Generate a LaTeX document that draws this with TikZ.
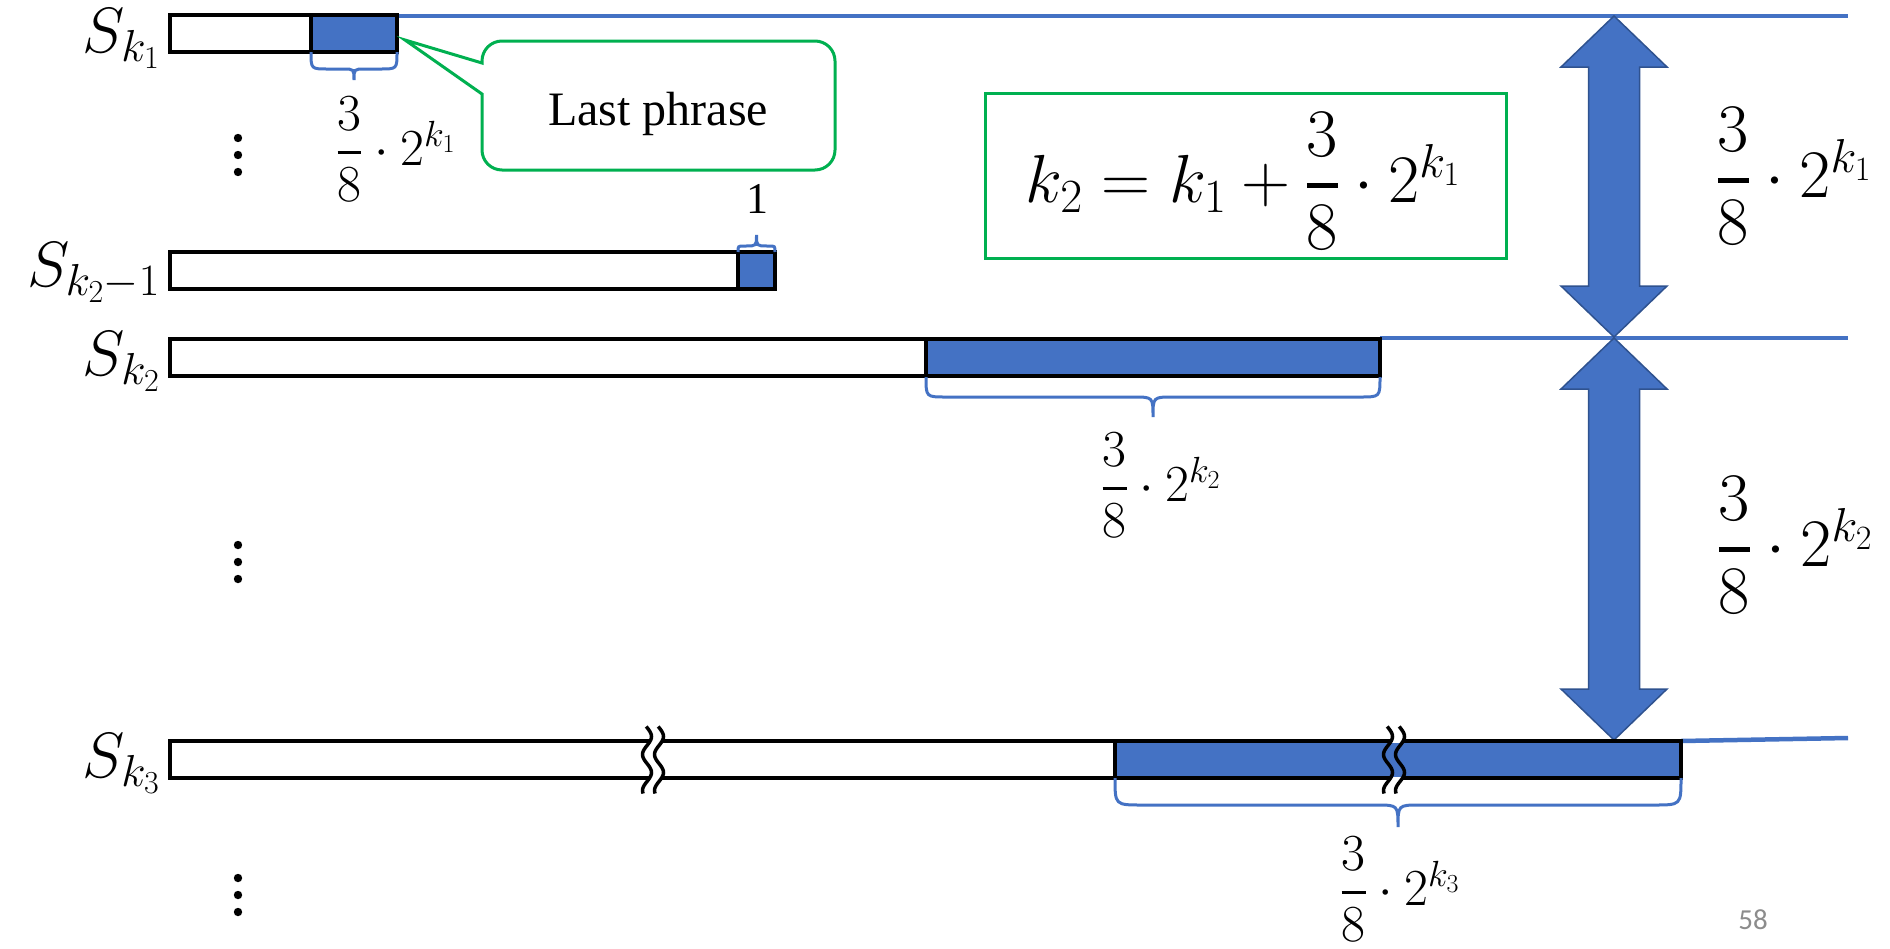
\RequirePackage{fix-cm}
\documentclass[tikz,border=0pt]{standalone}
\usepackage{amsmath}
\usepackage{fontspec}
\newfontfamily\tnrfont{Liberation Serif}
\newfontfamily\numfont{Carlito}
\definecolor{obl}{HTML}{4472C4}
\definecolor{obd}{HTML}{2F528F}
\definecolor{ogr}{HTML}{00B050}
\definecolor{pgray}{HTML}{8C8C8C}
\newcommand{\tfs}[2]{\genfrac{}{}{3.5pt}{0}{#1}{#2}}
\newcommand{\tfb}[2]{\genfrac{}{}{4.5pt}{0}{#1}{#2}}
\tikzset{
  barline/.style={draw=black, line width=3.5pt},
  segfill/.style={fill=obl},
  bline/.style={draw=obl, line width=4.5pt},
  brc/.style={draw=obl, line width=3pt},
  slab/.style={font=\fontsize{64}{74}\selectfont, anchor=base east, inner sep=0pt},
  frsmall/.style={font=\fontsize{52}{60}\selectfont, inner sep=0pt},
  frbig/.style={font=\fontsize{68}{78}\selectfont, inner sep=0pt},
  dotc/.style={fill=black},
  wavecurves/.pic={
    \fill[white] plot[domain=0:67,samples=40,smooth] ({-6+4.5*sin(-10+10*\x)},{33-\x})
      -- plot[domain=67:0,samples=40,smooth] ({6+4.5*sin(-10+10*\x)},{33-\x}) -- cycle;
  },
  wavelines/.pic={
    \draw[line width=3.5pt] plot[domain=0:67,samples=40,smooth] ({-6+4.5*sin(-10+10*\x)},{33-\x});
    \draw[line width=3.5pt] plot[domain=0:67,samples=40,smooth] ({6+4.5*sin(-10+10*\x)},{33-\x});
  },
  wavebreakw/.pic={
    \pic {wavecurves};
    \pic {wavelines};
  },
  wavebreakb/.pic={
    \pic {wavecurves};
    \begin{scope}
      \clip (-20,-16.5) rectangle (20,16.5);
      \fill[obl] plot[domain=0:67,samples=40,smooth] ({-6+4.5*sin(-10+10*\x)},{33-\x})
        -- plot[domain=67:0,samples=40,smooth] ({6+4.5*sin(-10+10*\x)},{33-\x}) -- cycle;
    \end{scope}
    \pic {wavelines};
  }
}
% brace: x1, x2, y0 (px, down), a, b, dir (1 down, -1 up)
\newcommand{\pbrace}[6]{%
  \pgfmathsetmacro\brYo{-(#3)}%
  \pgfmathsetmacro\brYa{-(#3+#6*#4)}%
  \pgfmathsetmacro\brYb{-(#3+#6*(#4+#5))}%
  \pgfmathsetmacro\brXm{(#1+#2)/2}%
  \draw[brc] (#1,\brYo) .. controls (#1,\brYa) and (#1,\brYa) .. ({#1+#4},\brYa)
    -- ({\brXm-#5},\brYa) .. controls (\brXm,\brYa) and (\brXm,\brYa) .. (\brXm,\brYb)
    .. controls (\brXm,\brYa) and (\brXm,\brYa) .. ({\brXm+#5},\brYa)
    -- ({#2-#4},\brYa) .. controls (#2,\brYa) and (#2,\brYa) .. (#2,\brYo);}
% double arrow: cx, ytop, ybot (px, down)
\newcommand{\dbarrow}[3]{%
  \filldraw[fill=obl, draw=obd, line width=1.5pt] (#1,-#2) -- ({#1+53},{-(#2+51)}) -- ({#1+25.5},{-(#2+51)})
    -- ({#1+25.5},{-(#3-51)}) -- ({#1+53},{-(#3-51)}) -- (#1,-#3) -- ({#1-53},{-(#3-51)})
    -- ({#1-25.5},{-(#3-51)}) -- ({#1-25.5},{-(#2+51)}) -- ({#1-53},{-(#2+51)}) -- cycle;}
\begin{document}
\begin{tikzpicture}[x=1pt,y=1pt]
\useasboundingbox (0,0) rectangle (1890,-948);
\fill[white] (0,0) rectangle (1890,-948);

% blue guide lines
\coordinate (l1a) at (397,-16);  \coordinate (l1b) at (1848,-16);
\coordinate (l2a) at (1380,-338); \coordinate (l2b) at (1848,-338);
\coordinate (l3a) at (1681,-741); \coordinate (l3b) at (1848,-738);
\draw[bline] (l1a) -- (l1b);
\draw[bline] (l2a) -- (l2b);
\draw[bline] (l3a) -- (l3b);

% double arrows
\dbarrow{1614}{16}{337}
\dbarrow{1614}{338}{740}

% bars
\fill[segfill] (311,-15) rectangle (397,-52);
\draw[barline] (170,-15) rectangle (397,-52);
\draw[barline] (311,-15) -- (311,-52);

\fill[segfill] (738,-252) rectangle (775,-289);
\draw[barline] (170,-252) rectangle (775,-289);
\draw[barline] (738,-252) -- (738,-289);

\fill[segfill] (926,-339) rectangle (1380,-376);
\draw[barline] (170,-339) rectangle (1380,-376);
\draw[barline] (926,-339) -- (926,-376);

\fill[segfill] (1115,-741) rectangle (1681,-778);
\draw[barline] (170,-741) rectangle (1681,-778);
\draw[barline] (1115,-741) -- (1115,-778);

\pic at (653,-759.5) {wavebreakw};
\pic at (1394,-759.5) {wavebreakb};

% braces
\pbrace{311}{397}{52}{17}{11}{1}
\pbrace{738}{775}{252}{6}{11}{-1}
\pbrace{926}{1380}{377}{20}{20}{1}
\pbrace{1115}{1681}{778}{27}{22}{1}

% row labels
\node[slab] (s1) at (160,-52) {$S_{k_1}$};
\node[slab] (s2) at (160,-286) {$S_{k_2-1}$};
\node[slab] (s3) at (160,-375) {$S_{k_2}$};
\node[slab] (s4) at (160,-777) {$S_{k_3}$};

% vertical dots
\foreach \yc in {155,562,895}{
  \fill[dotc] (238,{-\yc+17}) circle (4.2);
  \fill[dotc] (238,{-\yc}) circle (4.2);
  \fill[dotc] (238,{-\yc-17}) circle (4.2);
}

% brace labels
\node[frsmall] (f1) at (396,-149) {$\tfs{3}{8}\cdot 2^{k_1}$};
\node[frsmall] (f2) at (1161,-485) {$\tfs{3}{8}\cdot 2^{k_2}$};
\node[frsmall] (f3) at (1400,-889) {$\tfs{3}{8}\cdot 2^{k_3}$};
\node[font=\tnrfont\fontsize{44}{50}\selectfont, anchor=base, inner sep=0pt] (one) at (757,-213) {1};

% right labels
\node[frbig] (r1) at (1794,-176) {$\tfb{3}{8}\cdot 2^{k_1}$};
\node[frbig] (r2) at (1795,-545) {$\tfb{3}{8}\cdot 2^{k_2}$};

% callout
\filldraw[fill=white, draw=ogr, line width=3pt, line join=miter]
  (482,-63) -- (405,-40) -- (482,-94) -- (482,-150)
  arc[start angle=180, end angle=270, radius=20] -- (815,-170)
  arc[start angle=270, end angle=360, radius=20] -- (835,-61)
  arc[start angle=0, end angle=90, radius=20] -- (502,-41)
  arc[start angle=90, end angle=180, radius=20] -- cycle;
\node[font=\tnrfont\fontsize{48}{58}\selectfont, anchor=base, inner sep=0pt] (cl) at (658,-125) {Last phrase};

% equation box
\node[draw=ogr, line width=3pt, minimum width=521pt, minimum height=165pt, inner sep=0pt] (eqbox) at (1245.5,-175.5) {};
\node[frbig] (eq) at (1243,-181) {$k_2 = k_1 + \tfb{3}{8}\cdot 2^{k_1}$};

% page number
\node[font=\numfont\fontsize{29}{34}\selectfont, text=pgray, anchor=base, inner sep=0pt] (pg) at (1753,-929) {58};
\end{tikzpicture}
\end{document}
